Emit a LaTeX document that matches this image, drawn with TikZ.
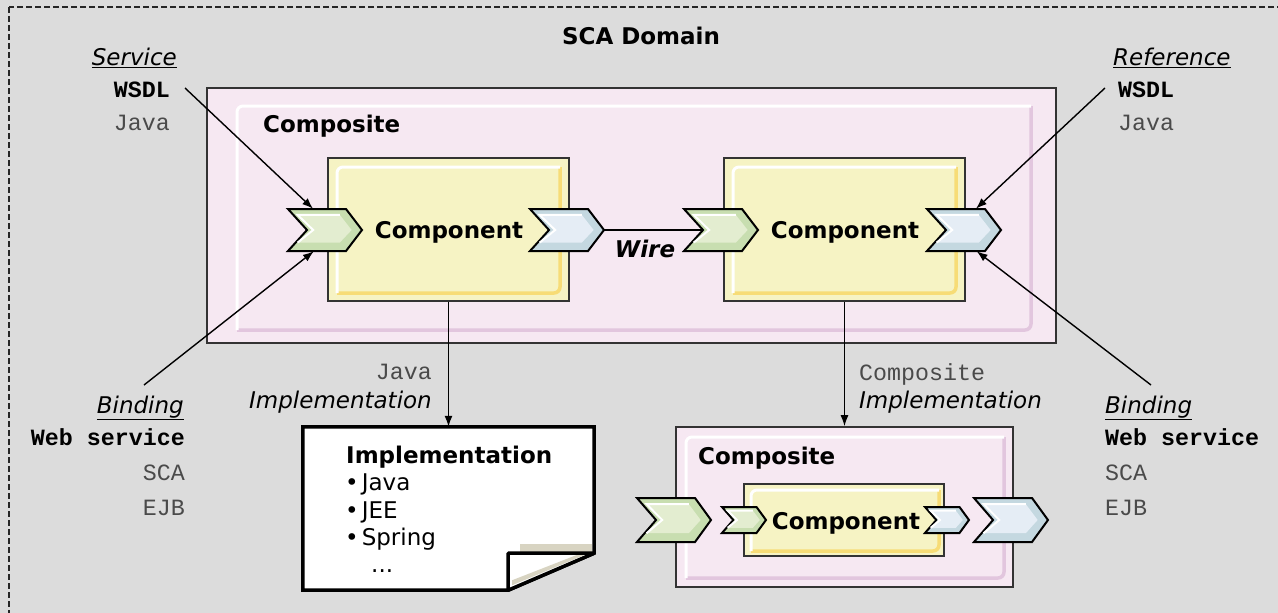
\documentclass[tikz,border=0pt]{standalone}
\usepackage{fontspec}
\setmainfont{DejaVu Sans}
\setmonofont{Liberation Mono}
\usetikzlibrary{calc,arrows.meta}
\definecolor{bg}{HTML}{DCDCDC}
\definecolor{compink}{HTML}{F6E8F2}
\definecolor{pinkband}{HTML}{E2C6DE}
\definecolor{compyel}{HTML}{F6F3C4}
\definecolor{yelband}{HTML}{F7DC76}
\definecolor{grnlight}{HTML}{E3EDD0}
\definecolor{grnband}{HTML}{C8DEB0}
\definecolor{blulight}{HTML}{E5EDF5}
\definecolor{bluband}{HTML}{C4D8E0}
\definecolor{beige}{HTML}{D8D4C2}
\definecolor{graytxt}{HTML}{4A4A4A}
\newcommand\chev[7]{%
  \node[inner sep=0pt, minimum width=#4pt, minimum height=#5pt] (#1) at ({#2+#4/2},{#3+#5/2}) {};
  \filldraw[fill=#6, draw=black, line width=2pt, line join=miter]
    (#2,#3) -- ({#2+0.784*#4},#3) -- ({#2+#4},{#3+#5/2}) -- ({#2+0.784*#4},{#3+#5})
    -- (#2,{#3+#5}) -- ({#2+0.257*#4},{#3+#5/2}) -- cycle;
  \fill[#7] ({#2+0.13*#4},{#3+0.14*#5}) -- ({#2+0.70*#4},{#3+0.14*#5}) -- ({#2+0.86*#4},{#3+#5/2})
    -- ({#2+0.70*#4},{#3+0.80*#5}) -- ({#2+0.13*#4},{#3+0.80*#5}) -- ({#2+0.34*#4},{#3+#5/2}) -- cycle;
  \draw[white, line width=2pt, line join=miter] ({#2+0.70*#4},{#3+0.14*#5}) -- ({#2+0.13*#4},{#3+0.14*#5})
    -- ({#2+0.34*#4},{#3+#5/2}) -- ({#2+0.13*#4},{#3+0.80*#5});
}
\newcommand\hilite[5]{%
  \draw[#5, line width=3.5pt, rounded corners=6pt] (#3,#2) -- (#3,#4) -- (#1,#4);
  \draw[white, line width=3pt, rounded corners=6pt] (#1,#4) -- (#1,#2) -- (#3,#2);
}
\tikzset{
  frame/.style={draw=black!80, line width=1.6pt, inner sep=0pt},
  composbox/.style={frame, fill=compink},
  componbox/.style={frame, fill=compyel},
  arr/.style={line width=1.4pt, -{Latex[length=11pt,width=8pt]}},
  bsans/.style={font=\fontsize{23}{27}\selectfont\bfseries, inner sep=0pt},
  isans/.style={font=\fontsize{23}{27}\selectfont\itshape, inner sep=0pt},
  rsans/.style={font=\fontsize{23}{27}\selectfont, inner sep=0pt},
  mono/.style={font=\fontsize{23.3}{27}\selectfont\ttfamily, text=graytxt, inner sep=0pt},
  bmono/.style={font=\fontsize{23.3}{27}\selectfont\ttfamily\bfseries, inner sep=0pt},
}
\begin{document}
\begin{tikzpicture}[x=1pt,y=-1pt]
\useasboundingbox (0,0) rectangle (1278,613);
\begin{scope}
\clip (0,0) rectangle (1278,613);
\fill[bg] (0,0) rectangle (1278,613);
\draw[black!85, line width=1.3pt, dash pattern=on 6pt off 3pt] (9,7) rectangle (1300,640);
\end{scope}

\node[bsans, anchor=base] (dom) at (641,45) {SCA Domain};

% big composite
\node[composbox, minimum width=849pt, minimum height=255pt] (C1) at (631.5,215.5) {};
\hilite{237}{106}{1031}{330}{pinkband}
\node[bsans, anchor=base west] (c1t) at (263,132) {Composite};

% components
\node[componbox, minimum width=241pt, minimum height=143pt] (K1) at (448.5,229.5) {};
\hilite{337}{167}{560}{293}{yelband}
\node[bsans, anchor=base] (k1t) at (449,238) {Component};
\node[componbox, minimum width=241pt, minimum height=143pt] (K2) at (844.5,229.5) {};
\hilite{733}{167}{956}{293}{yelband}
\node[bsans, anchor=base] (k2t) at (845,238) {Component};

% chevrons
\chev{s1}{288}{209}{74}{42}{grnband}{grnlight}
\chev{r1}{530}{209}{74}{42}{bluband}{blulight}
\chev{s2}{684}{209}{74}{42}{grnband}{grnlight}
\chev{r2}{927}{209}{74}{42}{bluband}{blulight}

% wire
\draw[line width=1.6pt] (r1.east) -- ($(s2.west)+(19,0)$);
\node[bsans, font=\fontsize{23}{27}\selectfont\bfseries\itshape, anchor=base] (wire) at (645,257) {Wire};

% implementation document
\node[inner sep=0pt, minimum width=291pt, minimum height=163pt] (doc) at (448.5,508.5) {};
\filldraw[fill=white, draw=black, line width=3.5pt, line join=miter]
  (doc.north west) -- (doc.north east) -- ($(doc.south east)+(0,-37)$) -- ($(doc.south east)+(-86,0)$) -- (doc.south west) -- cycle;
\fill[beige] ($(doc.south east)+(-74,-46)$) rectangle ($(doc.south east)+(-2,-37)$);
\filldraw[fill=white, draw=black, line width=3.5pt, line join=round]
  ($(doc.south east)+(-86,-37)$) -- ($(doc.south east)+(0,-37)$) -- ($(doc.south east)+(-86,0)$) -- cycle;
\fill[beige] ($(doc.south east)+(-82,-5)$) -- ($(doc.south east)+(-10,-35)$) -- ($(doc.south east)+(-18,-35)$) -- ($(doc.south east)+(-82,-10)$) -- cycle;
\node[bsans, anchor=base west] (d1) at (346,463) {Implementation};
\node[rsans, anchor=base west] (d2) at (345,490) {•\hspace{3pt}Java};
\node[rsans, anchor=base west] (d3) at (345,518) {•\hspace{3pt}JEE};
\node[rsans, anchor=base west] (d4) at (345,545) {•\hspace{3pt}Spring};
\node[rsans, anchor=base west] (d5) at (371,572) {...};

% bottom composite
\node[composbox, minimum width=337pt, minimum height=160pt] (C2) at (844.5,507) {};
\hilite{686}{437}{1004}{578}{pinkband}
\node[bsans, anchor=base west] (c2t) at (698,464) {Composite};
\node[componbox, minimum width=200pt, minimum height=72pt] (K3) at (844,520) {};
\hilite{751}{490}{939}{551}{yelband}
\node[bsans, anchor=base] (k3t) at (846,529) {Component};
\chev{s3}{637}{498}{74}{44}{grnband}{grnlight}
\chev{s4}{722}{507}{44}{26}{grnband}{grnlight}
\chev{r4}{925}{507}{44}{26}{bluband}{blulight}
\chev{r3}{974}{498}{74}{44}{bluband}{blulight}

% implementation arrows
\draw[arr] (K1.south) -- (doc.north);
\draw[arr] (K2.south) -- (C2.north);
\node[mono, anchor=base east] (jl) at (432,379) {Java};
\node[isans, anchor=base east] (il) at (432,408) {Implementation};
\node[mono, anchor=base west] (cl) at (859,380) {Composite};
\node[isans, anchor=base west] (il2) at (859,408) {Implementation};

% left labels
\node[isans, anchor=base east] (svc) at (177,65) {\underline{Service}};
\node[bmono, anchor=base east] (w1) at (170,97) {WSDL};
\node[mono, anchor=base east] (j1) at (170,130) {Java};
\coordinate (svcend) at (185,88);
\draw[arr] (svcend) -- ($(s1.north west)!0.34!(s1.north east)$);

\node[isans, anchor=base east] (b1) at (184,413) {\underline{Binding}};
\node[bmono, anchor=base east] (ws1) at (185,445) {Web service};
\node[mono, anchor=base east] (sca1) at (185,480) {SCA};
\node[mono, anchor=base east] (ejb1) at (185,515) {EJB};
\coordinate (b1end) at (144,385);
\draw[arr] (b1end) -- ($(s1.south west)!0.35!(s1.south east)$);

% right labels
\node[isans, anchor=base west] (ref) at (1113,65) {\underline{Reference}};
\node[bmono, anchor=base west] (w2) at (1118,97) {WSDL};
\node[mono, anchor=base west] (j2) at (1118,130) {Java};
\coordinate (refend) at (1105,88);
\draw[arr] (refend) -- ($(r2.north west)!0.66!(r2.north east)$);

\node[isans, anchor=base west] (b2) at (1105,413) {\underline{Binding}};
\node[bmono, anchor=base west] (ws2) at (1105,445) {Web service};
\node[mono, anchor=base west] (sca2) at (1105,480) {SCA};
\node[mono, anchor=base west] (ejb2) at (1105,515) {EJB};
\coordinate (b2end) at (1151,385);
\draw[arr] (b2end) -- ($(r2.south west)!0.67!(r2.south east)$);
\end{tikzpicture}
\end{document}
